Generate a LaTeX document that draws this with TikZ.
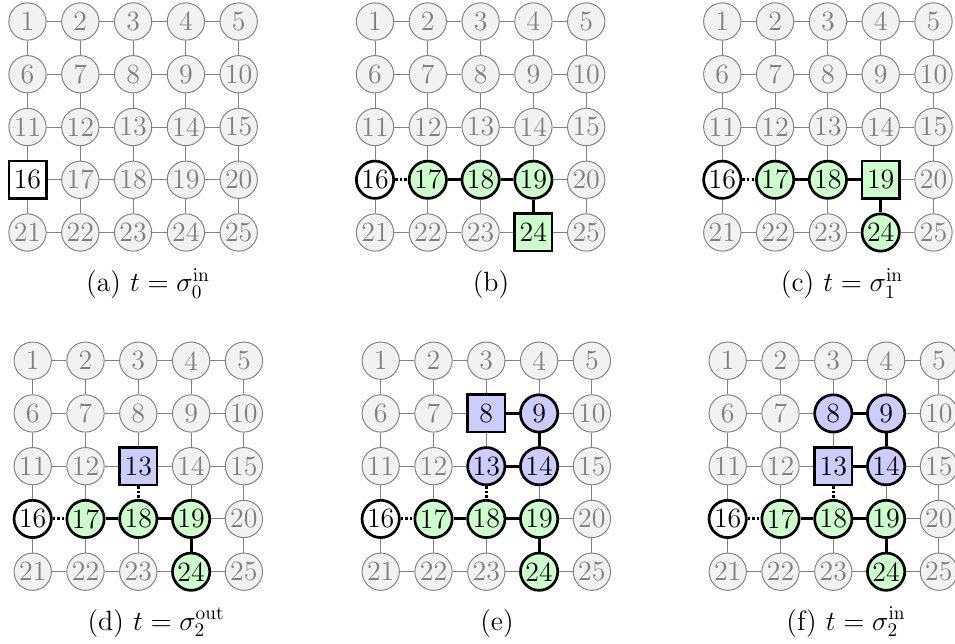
\documentclass[tikz,border=0pt]{standalone}
\usepackage{amsmath}
\begin{document}
\begin{tikzpicture}[x=0.52pt,y=-0.52pt,
  every node/.style={font=\fontsize{14.5}{17}\selectfont},
  off/.style={circle,minimum size=19.4pt,inner sep=0pt,draw=gray,fill=gray!10,text=gray,line width=0.5pt},
  onb/.style={draw=black,line width=1.4pt,text=black},
  gc/.style={onb,fill=green!20},
  bc/.style={onb,fill=blue!20},
  wc/.style={onb,fill=white},
  sqr/.style={rectangle},
  gedge/.style={draw=gray,line width=0.5pt},
  tk/.style={draw=black,line width=1.6pt},
  dt/.style={draw=black,line width=1.6pt,dash pattern=on 1.3pt off 1.1pt},
  captext/.style={anchor=base,inner sep=0pt},
  % panel a
  an16/.style={wc,sqr},
  % panel b
  bn16/.style={wc}, bn17/.style={gc}, bn18/.style={gc}, bn19/.style={gc}, bn24/.style={gc,sqr},
  be16-17/.style={dt}, be17-18/.style={tk}, be18-19/.style={tk}, be19-24/.style={tk},
  % panel c
  cn16/.style={wc}, cn17/.style={gc}, cn18/.style={gc}, cn19/.style={gc,sqr}, cn24/.style={gc},
  ce16-17/.style={dt}, ce17-18/.style={tk}, ce18-19/.style={tk}, ce19-24/.style={tk},
  % panel d
  dn16/.style={wc}, dn17/.style={gc}, dn18/.style={gc}, dn19/.style={gc}, dn24/.style={gc}, dn13/.style={bc,sqr},
  de16-17/.style={dt}, de17-18/.style={tk}, de18-19/.style={tk}, de19-24/.style={tk}, de13-18/.style={dt},
  % panel e
  en16/.style={wc}, en17/.style={gc}, en18/.style={gc}, en19/.style={gc}, en24/.style={gc},
  en8/.style={bc,sqr}, en9/.style={bc}, en13/.style={bc}, en14/.style={bc},
  ee16-17/.style={dt}, ee17-18/.style={tk}, ee18-19/.style={tk}, ee19-24/.style={tk}, ee13-18/.style={dt},
  ee8-9/.style={tk}, ee9-14/.style={tk}, ee13-14/.style={tk},
  % panel f
  fn16/.style={wc}, fn17/.style={gc}, fn18/.style={gc}, fn19/.style={gc}, fn24/.style={gc},
  fn8/.style={bc}, fn9/.style={bc}, fn13/.style={bc,sqr}, fn14/.style={bc},
  fe16-17/.style={dt}, fe17-18/.style={tk}, fe18-19/.style={tk}, fe19-24/.style={tk}, fe13-18/.style={dt},
  fe8-9/.style={tk}, fe9-14/.style={tk}, fe13-14/.style={tk}
]
\useasboundingbox (0,0) rectangle (955,644);
\newcommand\mkpanel[3]{%
  \foreach \r in {0,...,4}{\foreach \c in {0,...,4}{%
    \pgfmathtruncatemacro\n{5*\r+\c+1}%
    \pgfmathsetmacro\xx{#2+\c*52.8}\pgfmathsetmacro\yy{#3+\r*52.75}%
    \edef\tmp{\noexpand\node[off,#1n\n/.try] (#1\n) at (\xx,\yy) {\n};}\tmp
  }}%
  \foreach \r in {0,...,4}{\foreach \c in {1,...,4}{%
    \pgfmathtruncatemacro\a{5*\r+\c}\pgfmathtruncatemacro\b{\a+1}%
    \edef\tmp{\noexpand\draw[gedge,#1e\a-\b/.try] (#1\a) -- (#1\b);}\tmp
  }}%
  \foreach \r in {0,...,3}{\foreach \c in {1,...,5}{%
    \pgfmathtruncatemacro\a{5*\r+\c}\pgfmathtruncatemacro\b{\a+5}%
    \edef\tmp{\noexpand\draw[gedge,#1e\a-\b/.try] (#1\a) -- (#1\b);}\tmp
  }}%
}
\mkpanel{a}{27.5}{21.5}
\mkpanel{b}{375}{21.5}
\mkpanel{c}{722.3}{21.5}
\mkpanel{d}{32.7}{360.7}
\mkpanel{e}{380.7}{360.7}
\mkpanel{f}{727.7}{360.7}
\node[captext] (capa) at (148,292) {(a) $t=\sigma_0^{\mathrm{in}}$};
\node[captext] (capb) at (491,292) {(b)};
\node[captext] (capc) at (842,292) {(c) $t=\sigma_1^{\mathrm{in}}$};
\node[captext] (capd) at (156,630) {(d) $t=\sigma_2^{\mathrm{out}}$};
\node[captext] (cape) at (497,630) {(e)};
\node[captext] (capf) at (846,630) {(f) $t=\sigma_2^{\mathrm{in}}$};
\end{tikzpicture}
\end{document}
